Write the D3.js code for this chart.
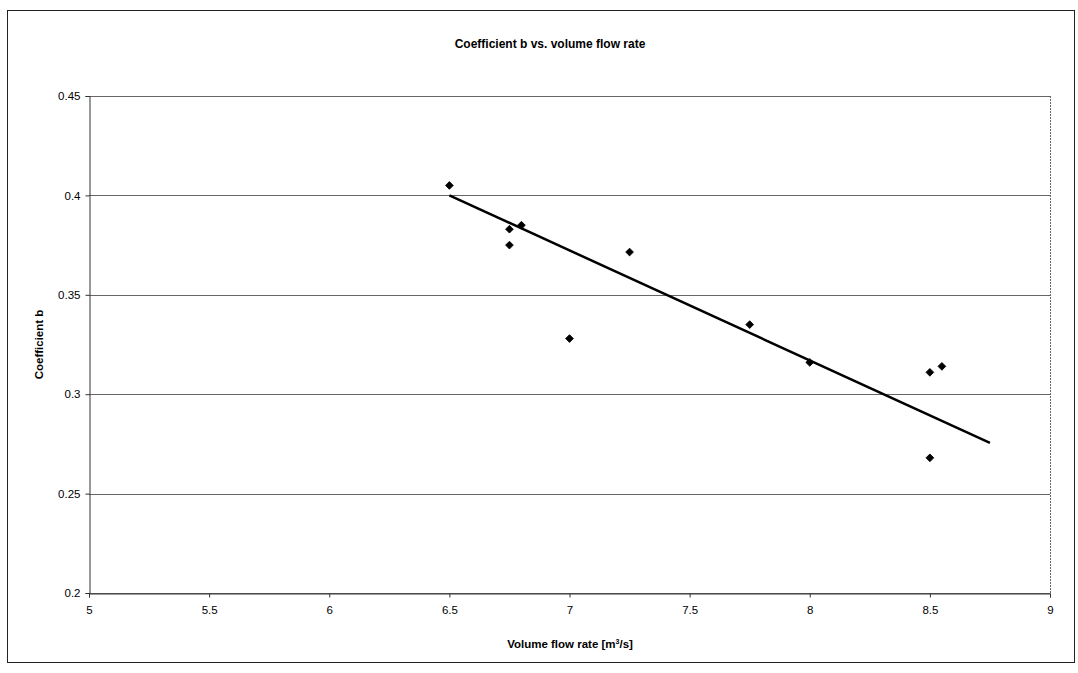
<!DOCTYPE html>
<html>
<head>
<meta charset="utf-8">
<script src="https://cdn.jsdelivr.net/npm/d3@7"></script>
<style>
  html, body { margin: 0; padding: 0; background: #fff; }
  svg text { font-family: "Liberation Sans", Arial, sans-serif; fill: #000; }
</style>
</head>
<body>
<svg id="chart" width="1078" height="673"></svg>
<script>
// ---- data ----
const flowRate    = [6.5, 6.75, 6.8, 6.75, 7.0, 7.25, 7.75, 8.0, 8.5, 8.55, 8.5];
const coeffB      = [0.405, 0.383, 0.385, 0.375, 0.328, 0.3715, 0.335, 0.316, 0.311, 0.314, 0.268];
const trendX      = [6.5, 8.75];
const trendY      = [0.400, 0.2755];
const xTicks      = [5, 5.5, 6, 6.5, 7, 7.5, 8, 8.5, 9];
const yTicks      = [0.2, 0.25, 0.3, 0.35, 0.4, 0.45];
const titleText   = "Coefficient b vs. volume flow rate";
const xTitle      = "Volume flow rate [m³/s]";
const yTitle      = "Coefficient b";

const svg = d3.select("#chart");
const plot = { left: 89, right: 1050, top: 96, bottom: 593 };

// outer chart frame
svg.append("rect")
  .attr("x", 7.5).attr("y", 10.5).attr("width", 1067).attr("height", 652)
  .attr("fill", "none").attr("stroke", "#222").attr("stroke-width", 1);

const x = d3.scaleLinear().domain([5, 9]).range([plot.left, plot.right]);
const y = d3.scaleLinear().domain([0.2, 0.45]).range([plot.bottom, plot.top]);

// gridlines
svg.append("g").selectAll("line").data(yTicks).join("line")
  .attr("x1", plot.left).attr("x2", plot.right)
  .attr("y1", d => Math.round(y(d)) + 0.5).attr("y2", d => Math.round(y(d)) + 0.5)
  .attr("stroke", "#666").attr("stroke-width", 1);

// right border of plot area
svg.append("line")
  .attr("x1", plot.right + 0.5).attr("x2", plot.right + 0.5)
  .attr("y1", plot.top).attr("y2", plot.bottom)
  .attr("stroke", "#666").attr("stroke-width", 1).attr("stroke-dasharray", "2,1");

// axes
const xAxis = d3.axisBottom(x).tickValues(xTicks).tickSize(4).tickPadding(8)
  .tickFormat(d => String(d));
const yAxis = d3.axisLeft(y).tickValues(yTicks).tickSize(4).tickPadding(5)
  .tickFormat(d => String(d));

const gx = svg.append("g").attr("transform", `translate(0,${plot.bottom + 0.5})`).call(xAxis);
const gy = svg.append("g").attr("transform", `translate(${plot.left + 0.5},0)`).call(yAxis);
[gx, gy].forEach(g => {
  g.select(".domain").attr("stroke", "#333");
  g.selectAll(".tick line").attr("stroke", "#333");
  g.selectAll(".tick text").attr("font-size", 11.5).attr("fill", "#000")
    .attr("font-family", "'Liberation Sans', Arial, sans-serif");
});

// trendline
const line = d3.line().x(d => x(d[0])).y(d => y(d[1]));
svg.append("path")
  .datum(trendX.map((v, i) => [v, trendY[i]]))
  .attr("d", line)
  .attr("fill", "none").attr("stroke", "#000").attr("stroke-width", 2.5);

// points (square diamonds)
const sym = d3.symbol().type(d3.symbolSquare).size(30);
svg.append("g").selectAll("path").data(flowRate.map((v, i) => [v, coeffB[i]])).join("path")
  .attr("d", sym)
  .attr("transform", d => `translate(${x(d[0])},${y(d[1])}) rotate(45)`)
  .attr("fill", "#000").attr("stroke", "#000").attr("stroke-width", 0.8);

// titles
svg.append("text").attr("x", 550).attr("y", 48)
  .attr("text-anchor", "middle").attr("font-size", 12).attr("font-weight", "bold")
  .text(titleText);

const xt = svg.append("text").attr("x", 570).attr("y", 648)
  .attr("text-anchor", "middle").attr("font-size", 11.5).attr("font-weight", "bold");
xt.append("tspan").text("Volume flow rate [m");
xt.append("tspan").attr("font-size", 7).attr("dy", -4).text("3");
xt.append("tspan").attr("dy", 4).text("/s]");

svg.append("text")
  .attr("transform", `translate(43,${(plot.top + plot.bottom) / 2}) rotate(-90)`)
  .attr("text-anchor", "middle").attr("font-size", 11.5).attr("font-weight", "bold")
  .text(yTitle);
</script>
</body>
</html>
